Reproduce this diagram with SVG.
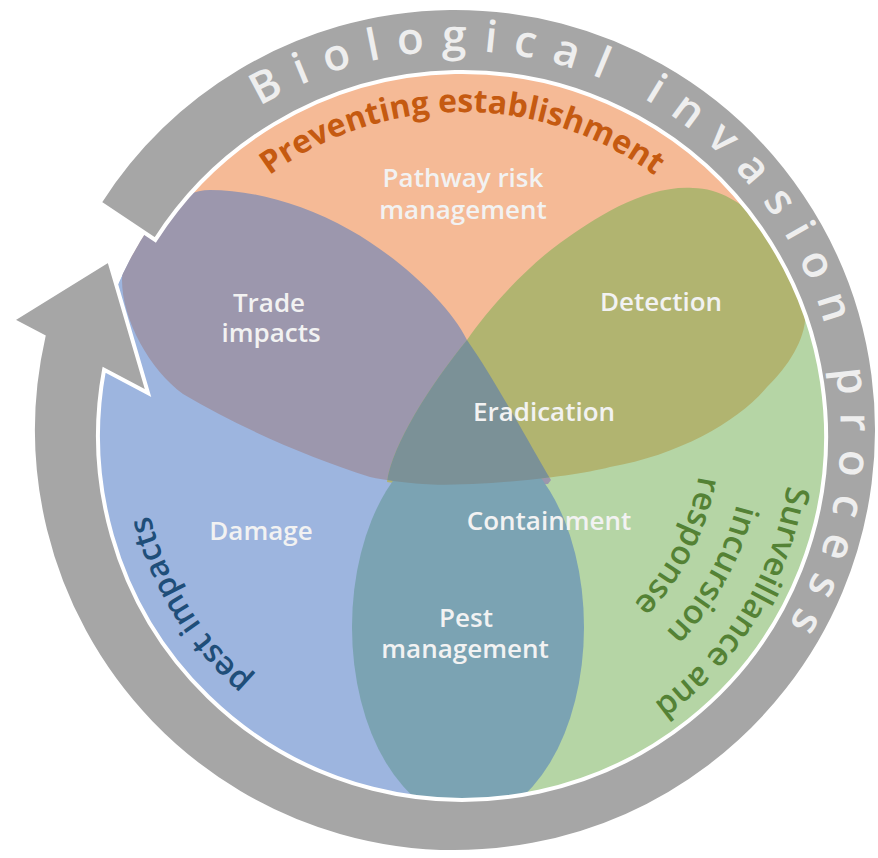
<svg xmlns="http://www.w3.org/2000/svg" width="878" height="858" viewBox="0 0 878 858">
<defs>
<style>
.lbl{font-family:"Open Sans","Noto Sans","Liberation Sans",sans-serif;font-weight:600;font-size:26px;fill:#F2F2F2;text-anchor:middle}
.ringt{font-family:"Open Sans","Noto Sans","Liberation Sans",sans-serif;font-weight:600;font-size:44px;fill:#EEEEEE;letter-spacing:17px}
.arct{font-family:"Open Sans","Noto Sans","Liberation Sans",sans-serif}
</style>
<clipPath id="disc"><circle cx="462" cy="436" r="376"/></clipPath>
<path id="purpleShape" d="M467,340 C450,305 400,258 350,230 C300,202 250,190 210,190 C170,190 122,240 122,280 C122,320 150,370 183,394 C240,428 310,458 370,477 C420,488 500,487 548,484 L551,480 C532,448 495,380 467,340 Z"/>
<path id="oliveShape" d="M467,340 C485,313 525,268 560,243 C595,218 645,185 693,188 C745,188 795,250 805,310 C808,335 790,365 767,387 C740,420 680,455 610,467 C560,480 440,490 387,482 C392,445 430,385 467,340 Z"/>
<clipPath id="clipPurple"><use href="#purpleShape"/></clipPath>
<path id="arcPrev" d="M138,436 A324,324 0 0 1 786,436"/>
<path id="arcS1" d="M791,436 A329,329 0 0 1 462,765"/>
<path id="arcS2" d="M745,436 A283,283 0 0 1 462,719"/>
<path id="arcS3" d="M702,436 A240,240 0 0 1 462,676"/>
<path id="arcPest" d="M462,758 A322,322 0 0 1 140,436"/>
<path id="arcRing" d="M76.5,433 A382,382 0 1 1 267.5,763.8"/>
</defs>

<g clip-path="url(#disc)">
<g id="sector-preventing"><path d="M462,436 L130,259.5 A376,376 0 0 1 802.8,277.1 Z" fill="#F5BA96"/></g>
<g id="sector-surveillance"><path d="M462,436 L802.8,277.1 A376,376 0 0 1 462,812 Z" fill="#B5D5A5"/></g>
<g id="sector-pest-impacts"><path d="M462,436 L462,812 A376,376 0 0 1 130,259.5 Z" fill="#9DB5DF"/></g>
<g id="trade-impacts"><use href="#purpleShape" fill="#9C97AD"/></g>
<g id="detection"><use href="#oliveShape" fill="#B1B470"/></g>
<g id="pest-management"><ellipse cx="468" cy="627" rx="116" ry="192" fill="#7BA3B3"/></g>
<g id="eradication"><use href="#oliveShape" fill="#7B9197" clip-path="url(#clipPurple)"/></g>
</g>

<g id="connectors">
<path id="ring" d="M99.5,202.6 A422,422 0 1 1 43.5,336.5 L12,320 L109,260 L148,393 L104.1,369.7 A364,364 0 1 0 155.3,239.9 Z" fill="#A6A6A6" stroke="#FFFFFF" stroke-width="4" stroke-linejoin="miter"/>
<text class="ringt"><textPath href="#arcRing" startOffset="391">Biological invasion process</textPath></text>
</g>

<g id="labels">
<text class="arct" font-size="32" font-weight="700" fill="#C55A11"><textPath href="#arcPrev" startOffset="50%" text-anchor="middle">Preventing establishment</textPath></text>
<text class="arct" font-size="33" font-weight="600" fill="#548235"><textPath href="#arcS1" startOffset="181" text-anchor="middle">Surveillance and</textPath></text>
<text class="arct" font-size="33" font-weight="600" fill="#548235"><textPath href="#arcS2" startOffset="143" text-anchor="middle">incursion</textPath></text>
<text class="arct" font-size="33" font-weight="600" fill="#548235"><textPath href="#arcS3" startOffset="113" text-anchor="middle">response</textPath></text>
<text class="arct" font-size="32" font-weight="600" fill="#1F4E79"><textPath href="#arcPest" startOffset="327" text-anchor="middle">pest impacts</textPath></text>
<text class="lbl" x="463" y="187">Pathway risk</text>
<text class="lbl" x="463" y="219">management</text>
<text class="lbl" x="269" y="312">Trade</text>
<text class="lbl" x="271" y="342">impacts</text>
<text class="lbl" x="661" y="311">Detection</text>
<text class="lbl" x="544" y="421">Eradication</text>
<text class="lbl" x="549" y="530">Containment</text>
<text class="lbl" x="261" y="540">Damage</text>
<text class="lbl" x="466" y="627">Pest</text>
<text class="lbl" x="465" y="658">management</text>
</g>
</svg>
